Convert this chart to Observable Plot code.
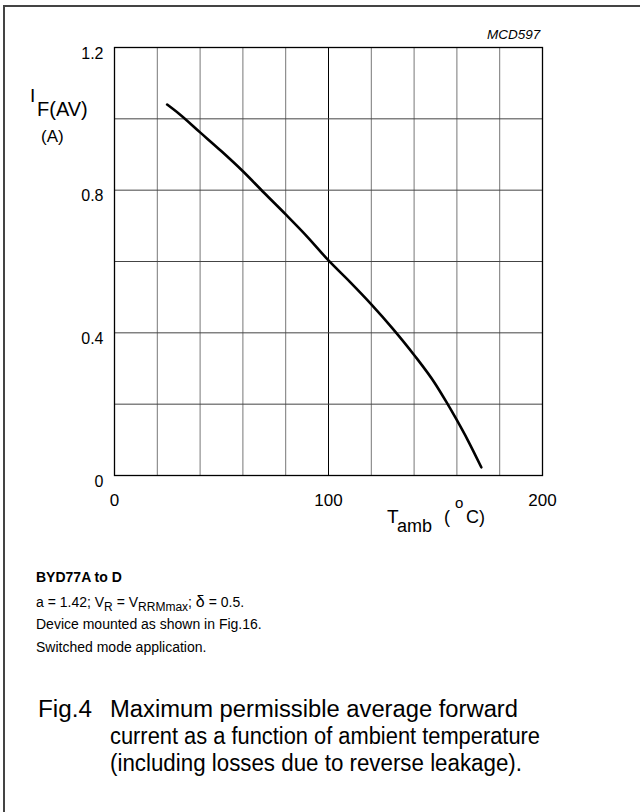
<!DOCTYPE html>
<html>
<head>
<meta charset="utf-8">
<script src="https://cdn.jsdelivr.net/npm/d3@7"></script>
<script src="https://cdn.jsdelivr.net/npm/@observablehq/plot@0.6"></script>
<style>
  html, body { margin: 0; padding: 0; background: #fff; }
  #wrap { position: relative; width: 640px; height: 812px; overflow: hidden; font-family: "Liberation Sans", Arial, sans-serif; color: #000; }
  #border { position: absolute; left: 3px; top: 5px; width: 650px; height: 820px; border-left: 2px solid #444; border-top: 2px solid #444; }
  #chart { position: absolute; left: 0; top: 0; }
  .t { position: absolute; white-space: nowrap; line-height: 1; }
  .notes { font-size: 14px; }
  .notes sub { font-size: 12px; vertical-align: -4px; line-height: 0; }
  .cap { font-size: 23px; transform-origin: 0 0; }
</style>
</head>
<body>
<div id="wrap">
  <div id="border"></div>
  <div id="chart"></div>
  <div class="t" style="left:487px; top:28px; font-size:13.5px; font-style:italic;">MCD597</div>
  <div class="t" style="left:30px; top:86px; font-size:19px;">I</div>
  <div class="t" style="left:37px; top:99px; font-size:20px;">F(AV)</div>
  <div class="t" style="left:41px; top:128px; font-size:17px;">(A)</div>
  <div class="t" style="left:387px; top:507px; font-size:19px;">T</div>
  <div class="t" style="left:397px; top:517px; font-size:18px;">amb</div>
  <div class="t" style="left:444px; top:508px; font-size:18px;">(</div>
  <div class="t" style="left:455px; top:495px; font-size:15px;">o</div>
  <div class="t" style="left:466px; top:508px; font-size:18px;">C)</div>
  <div class="t notes" style="left:36px; top:570px; font-weight:bold;">BYD77A to D</div>
  <div class="t notes" style="left:36px; top:594px;">a = 1.42; V<sub>R</sub> = V<sub>RRMmax</sub>; <span style="font-size:16px">δ</span> = 0.5.</div>
  <div class="t notes" style="left:36px; top:617px;">Device mounted as shown in Fig.16.</div>
  <div class="t notes" style="left:36px; top:640px;">Switched mode application.</div>
  <div class="t cap" data-w="54" style="left:38px; top:698px;">Fig.4</div>
  <div class="t cap" data-w="408" style="left:110px; top:698px;">Maximum permissible average forward</div>
  <div class="t cap" data-w="430" style="left:110px; top:725px;">current as a function of ambient temperature</div>
  <div class="t cap" data-w="412" style="left:110px; top:752px;">(including losses due to reverse leakage).</div>
</div>
<script>
// Data
const temps = [24.6, 30, 40, 50, 60, 70, 80, 90, 100, 110, 120, 130, 140, 150, 155, 160, 165, 171.4];
const currents = [1.04, 1.015, 0.962, 0.909, 0.853, 0.792, 0.732, 0.670, 0.603, 0.543, 0.480, 0.412, 0.338, 0.256, 0.207, 0.155, 0.100, 0.023];
const xTicks = [0, 100, 200];
const yTicks = [0, 0.4, 0.8, 1.2];
const xGrid = [20, 40, 60, 80, 100, 120, 140, 160, 180];
const yGrid = [0.2, 0.4, 0.6, 0.8, 1.0];

const points = temps.map((t, i) => ({t, i: currents[i]}));

const chart = Plot.plot({
  width: 640,
  height: 540,
  marginLeft: 114,
  marginRight: 98,
  marginTop: 47,
  marginBottom: 65,
  style: {fontFamily: "Liberation Sans, Arial, sans-serif", fontSize: "16px", color: "#000", background: "transparent"},
  x: {domain: [0, 200]},
  y: {domain: [0, 1.2]},
  marks: [
    Plot.ruleX(xGrid, {stroke: d => d === 100 ? "#000" : "#777", strokeWidth: 1}),
    Plot.ruleY(yGrid, {stroke: "#444", strokeWidth: 1}),
    Plot.frame({stroke: "#000", strokeWidth: 1.3}),
    Plot.axisX(xTicks, {tickSize: 0, tickPadding: 18, fontSize: 17, label: null}),
    Plot.axisY(yTicks, {tickSize: 0, tickPadding: 11, dy: 6, fontSize: 16, label: null, tickFormat: d => d === 0 ? "0" : d.toFixed(1)}),
    Plot.line(points, {x: "t", y: "i", curve: "monotone-x", stroke: "#000", strokeWidth: 2.6})
  ]
});
document.getElementById("chart").appendChild(chart);

// fit caption lines to the widths measured on the reference
document.querySelectorAll(".cap").forEach(el => {
  const target = +el.dataset.w;
  const w = el.getBoundingClientRect().width;
  if (w > 0) el.style.transform = `scaleX(${target / w})`;
});
</script>
</body>
</html>
